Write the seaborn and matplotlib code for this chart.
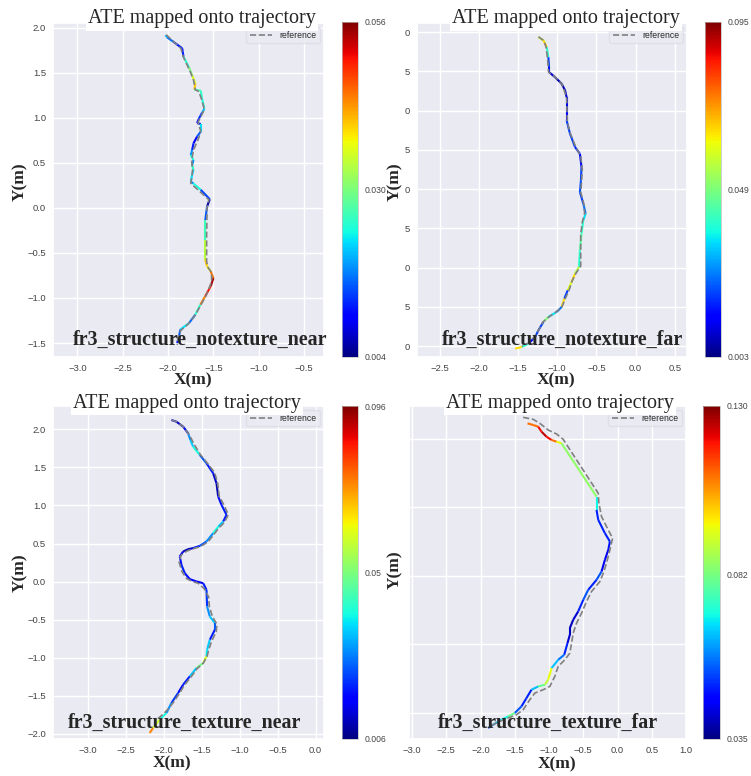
import numpy as np
import seaborn as sns
import matplotlib
matplotlib.use("Agg")
import matplotlib.pyplot as plt
from matplotlib.collections import LineCollection
from matplotlib.colors import Normalize

# ---- data ----

names = ["fr3_structure_notexture_near", "fr3_structure_notexture_far",
         "fr3_structure_texture_near", "fr3_structure_texture_far"]

# fr3_structure_notexture_near
est1_x = [-2.03, -2.01, -1.94, -1.845, -1.83, -1.77, -1.735, -1.70, -1.71, -1.64, -1.625, -1.60, -1.625, -1.66,
          -1.68, -1.64, -1.64, -1.68, -1.72, -1.735, -1.75, -1.72, -1.735, -1.72, -1.735, -1.75, -1.72, -1.64,
          -1.54, -1.57, -1.59, -1.59, -1.59, -1.57, -1.53, -1.50, -1.53, -1.59, -1.645, -1.70, -1.77, -1.865,
          -1.88, -1.90]
est1_y = [1.915, 1.89, 1.84, 1.77, 1.675, 1.56, 1.47, 1.38, 1.31, 1.30, 1.21, 1.10, 1.055, 0.99, 0.94, 0.93,
          0.845, 0.79, 0.715, 0.64, 0.585, 0.53, 0.475, 0.42, 0.365, 0.29, 0.27, 0.20, 0.095, 0.015, -0.135,
          -0.355, -0.575, -0.65, -0.705, -0.78, -0.87, -0.98, -1.075, -1.185, -1.28, -1.35, -1.425, -1.50]
ate1 = [0.020, 0.016, 0.012, 0.012, 0.025, 0.030, 0.036, 0.040, 0.027, 0.025, 0.024, 0.020, 0.013, 0.010,
        0.012, 0.022, 0.015, 0.010, 0.012, 0.018, 0.024, 0.018, 0.025, 0.022, 0.022, 0.018, 0.024, 0.014,
        0.006, 0.015, 0.026, 0.034, 0.040, 0.038, 0.045, 0.054, 0.050, 0.044, 0.025, 0.016, 0.022, 0.015,
        0.012, 0.040]
ref1_x = [-2.02, -1.98, -1.86, -1.83, -1.76, -1.72, -1.70, -1.66, -1.63, -1.60, -1.63, -1.67, -1.64, -1.66,
          -1.72, -1.74, -1.73, -1.74, -1.75, -1.66, -1.55, -1.57, -1.575, -1.575, -1.56, -1.52, -1.52, -1.58,
          -1.64, -1.70, -1.78, -1.86, -1.89, -1.90]
ref1_y = [1.92, 1.88, 1.77, 1.67, 1.52, 1.42, 1.31, 1.29, 1.20, 1.09, 1.03, 0.95, 0.85, 0.78, 0.64, 0.53,
          0.42, 0.33, 0.27, 0.19, 0.09, 0.00, -0.30, -0.60, -0.66, -0.72, -0.82, -0.97, -1.08, -1.19, -1.29,
          -1.36, -1.44, -1.52]

# fr3_structure_notexture_far
est2_x = [-1.24, -1.176, -1.134, -1.113, -1.104, -1.104, -1.03, -0.943, -0.90, -0.88, -0.88, -0.88, -0.837,
          -0.773, -0.71, -0.69, -0.697, -0.71, -0.667, -0.637, -0.667, -0.69, -0.71, -0.722, -0.773, -0.816,
          -0.866, -0.909, -0.943, -1.007, -1.113, -1.176, -1.24, -1.282, -1.367, -1.452, -1.537]
est2_y = [1.936, 1.894, 1.81, 1.68, 1.555, 1.49, 1.427, 1.342, 1.258, 1.17, 1.045, 0.876, 0.706, 0.536, 0.45,
          0.28, 0.112, -0.037, -0.185, -0.312, -0.397, -0.567, -0.78, -0.99, -1.076, -1.18, -1.288, -1.394,
          -1.50, -1.564, -1.627, -1.69, -1.797, -1.882, -1.967, -2.009, -2.03]
ate2 = [0.060, 0.065, 0.040, 0.020, 0.015, 0.010, 0.008, 0.008, 0.010, 0.012, 0.015, 0.020, 0.020, 0.018,
        0.015, 0.020, 0.022, 0.020, 0.025, 0.035, 0.040, 0.045, 0.040, 0.055, 0.065, 0.060, 0.020, 0.065,
        0.025, 0.035, 0.050, 0.020, 0.020, 0.015, 0.040, 0.065, 0.085]
ref2_x = [-1.24, -1.17, -1.14, -1.12, -1.11, -1.03, -0.94, -0.88, -0.875, -0.87, -0.83, -0.76, -0.70, -0.68,
          -0.69, -0.70, -0.66, -0.65, -0.68, -0.70, -0.70, -0.76, -0.81, -0.85, -0.90, -0.94, -1.01, -1.11,
          -1.18, -1.24, -1.29, -1.37, -1.45]
ref2_y = [1.94, 1.89, 1.80, 1.62, 1.49, 1.43, 1.34, 1.17, 1.00, 0.85, 0.70, 0.53, 0.42, 0.25, 0.08, -0.04,
          -0.19, -0.31, -0.42, -0.58, -0.98, -1.07, -1.17, -1.29, -1.40, -1.50, -1.56, -1.63, -1.69, -1.80,
          -1.88, -1.96, -2.00]

# fr3_structure_texture_near
est3_x = [-1.90, -1.834, -1.746, -1.68, -1.65, -1.614, -1.526, -1.438, -1.35, -1.306, -1.284, -1.24, -1.174,
          -1.218, -1.284, -1.35, -1.438, -1.526, -1.614, -1.68, -1.746, -1.79, -1.768, -1.724, -1.658, -1.57,
          -1.482, -1.438, -1.43, -1.394, -1.328, -1.328, -1.394, -1.43, -1.438, -1.482, -1.57, -1.658, -1.746,
          -1.812, -1.90, -1.966, -2.054, -2.142, -2.186]
est3_y = [2.122, 2.10, 2.035, 1.948, 1.86, 1.773, 1.663, 1.554, 1.423, 1.29, 1.117, 1.008, 0.877, 0.789,
          0.72, 0.636, 0.527, 0.47, 0.44, 0.426, 0.395, 0.33, 0.22, 0.111, 0.033, 0.002, -0.02, -0.107,
          -0.326, -0.457, -0.544, -0.632, -0.763, -0.894, -0.981, -1.069, -1.134, -1.244, -1.353, -1.462,
          -1.593, -1.725, -1.812, -1.921, -1.987]
ate3 = [0.015, 0.012, 0.018, 0.030, 0.035, 0.040, 0.025, 0.020, 0.012, 0.010, 0.018, 0.020, 0.020, 0.035,
        0.040, 0.030, 0.025, 0.020, 0.012, 0.010, 0.015, 0.018, 0.020, 0.018, 0.016, 0.015, 0.020, 0.022,
        0.030, 0.035, 0.025, 0.020, 0.035, 0.038, 0.060, 0.050, 0.035, 0.020, 0.018, 0.022, 0.030, 0.040,
        0.060, 0.075, 0.090]
ref3_x = [-1.90, -1.83, -1.74, -1.66, -1.60, -1.52, -1.43, -1.33, -1.29, -1.27, -1.21, -1.15, -1.20, -1.28,
          -1.34, -1.42, -1.52, -1.62, -1.70, -1.77, -1.80, -1.76, -1.70, -1.62, -1.55, -1.47, -1.41, -1.40,
          -1.36, -1.30, -1.31, -1.37, -1.41, -1.43, -1.48, -1.56, -1.64, -1.73, -1.79, -1.87, -1.94, -2.02,
          -2.08]
ref3_y = [2.12, 2.10, 2.03, 1.92, 1.80, 1.67, 1.56, 1.43, 1.29, 1.12, 1.01, 0.88, 0.78, 0.70, 0.62, 0.52,
          0.46, 0.43, 0.40, 0.35, 0.26, 0.13, 0.04, 0.00, -0.02, -0.09, -0.20, -0.33, -0.46, -0.56, -0.66,
          -0.78, -0.90, -0.98, -1.07, -1.14, -1.25, -1.36, -1.46, -1.58, -1.67, -1.75, -1.80]

# fr3_structure_texture_far
est4_x = [-1.314, -1.231, -1.158, -1.11, -1.037, -0.963, -0.89, -0.817, -0.306, -0.306, -0.281, -0.184,
          -0.111, -0.135, -0.184, -0.233, -0.306, -0.428, -0.50, -0.574, -0.647, -0.696, -0.696, -0.73,
          -0.778, -0.866, -0.963, -1.012, -1.061, -1.158, -1.256, -1.329, -1.402, -1.50, -1.597, -1.694,
          -1.816, -1.889]
est4_y = [2.231, 2.207, 2.183, 2.11, 2.036, 1.988, 1.963, 1.939, 1.16, 0.965, 0.819, 0.624, 0.502, 0.38,
          0.234, 0.063, -0.058, -0.205, -0.351, -0.521, -0.643, -0.765, -0.862, -0.984, -1.155, -1.228,
          -1.35, -1.52, -1.593, -1.618, -1.666, -1.788, -1.91, -2.007, -2.056, -2.105, -2.178, -2.227]
ate4 = [0.110, 0.110, 0.120, 0.125, 0.120, 0.110, 0.095, 0.085, 0.070, 0.050, 0.050, 0.050, 0.048, 0.045,
        0.045, 0.055, 0.050, 0.055, 0.050, 0.042, 0.040, 0.040, 0.042, 0.050, 0.058, 0.065, 0.095, 0.090,
        0.080, 0.065, 0.050, 0.050, 0.055, 0.080, 0.070, 0.065, 0.055, 0.050]
ref4_x = [-1.378, -1.231, -1.134, -1.012, -0.890, -0.793, -0.281, -0.272, -0.233, -0.160, -0.072, -0.111,
          -0.160, -0.208, -0.257, -0.379, -0.452, -0.525, -0.598, -0.647, -0.671, -0.696, -0.769, -0.866,
          -0.915, -0.988, -1.085, -1.207, -1.280, -1.378, -1.475, -1.597, -1.719, -1.865]
ref4_y = [2.319, 2.29, 2.231, 2.134, 2.076, 1.998, 1.208, 1.062, 0.867, 0.721, 0.551, 0.380, 0.185, 0.039,
          -0.083, -0.229, -0.375, -0.546, -0.692, -0.838, -0.984, -1.130, -1.228, -1.325, -1.471, -1.618,
          -1.666, -1.715, -1.812, -1.959, -2.032, -2.080, -2.129, -2.202]

cbar_ticks = [[0.004, 0.030, 0.056], [0.003, 0.049, 0.095], [0.006, 0.051, 0.096], [0.035, 0.082, 0.130]]
cbar_labels = [["0.004", "0.030", "0.056"], ["0.003", "0.049", "0.095"],
               ["0.006", "0.05", "0.096"], ["0.035", "0.082", "0.130"]]

# ---- layout (pixels of a 751x776 canvas) ----
W, H = 751, 776


def box(l, t, r, b):
    return [l / W, 1 - b / H, (r - l) / W, (b - t) / H]


sns.set_theme(style="darkgrid")
plt.rcParams["font.family"] = ["Liberation Sans", "DejaVu Sans"]
serif = ["Liberation Serif", "DejaVu Serif"]

fig = plt.figure(figsize=(W / 100, H / 100), dpi=100)

panels = [
    dict(est=(est1_x, est1_y, ate1), ref=(ref1_x, ref1_y), ax=(53, 23, 324, 357), cax=(342, 22, 358, 357),
         xlim=(-3.27, -0.28), ylim=(-1.655, 2.05), xt=np.arange(-3.0, -0.49, 0.5), yt=np.arange(-1.5, 2.01, 0.5),
         title=(202, 19), xl=(193, 380), yl=(20, 182), name=(200, 340)),
    dict(est=(est2_x, est2_y, ate2), ref=(ref2_x, ref2_y), ax=(417, 23, 687, 357), cax=(705, 22, 721, 357),
         xlim=(-2.79, 0.657), ylim=(-2.137, 2.115), xt=np.arange(-2.5, 0.51, 0.5), yt=np.arange(-2.0, 2.01, 0.5),
         title=(566, 19), xl=(556, 380), yl=(395, 182), name=(563, 340)),
    dict(est=(est3_x, est3_y, ate3), ref=(ref3_x, ref3_y), ax=(53, 406, 324, 739), cax=(342, 406, 358, 739),
         xlim=(-3.46, 0.11), ylim=(-2.066, 2.306), xt=np.arange(-3.0, 0.01, 0.5), yt=np.arange(-2.0, 2.01, 0.5),
         title=(187, 403), xl=(172, 763), yl=(20, 573), name=(185, 723)),
    dict(est=(est4_x, est4_y, ate4), ref=(ref4_x, ref4_y), ax=(409, 406, 686, 739), cax=(703, 406, 720, 739),
         xlim=(-3.044, 1.0), ylim=(-2.387, 2.485), xt=np.arange(-3.0, 1.01, 0.5), yt=np.arange(-2.0, 2.01, 1.0),
         title=(560, 403), xl=(557, 764), yl=(395, 570), name=(548, 723)),
]

for i, p in enumerate(panels):
    ax = fig.add_axes(box(*p["ax"]))
    x, y, err = p["est"]
    pts = np.column_stack([x, y])
    segs = np.stack([pts[:-1], pts[1:]], axis=1)
    ticks = cbar_ticks[i]
    lc = LineCollection(segs, cmap="jet", norm=Normalize(ticks[0], ticks[-1]), linewidth=1.5)
    lc.set_array(np.array(err[:-1]))
    ax.add_collection(lc)

    rx, ry = p["ref"]
    sns.lineplot(x=rx, y=ry, sort=False, estimator=None, ax=ax, color="gray", linestyle="--",
                 linewidth=1.2, label="reference")

    ax.set_xlim(*p["xlim"])
    ax.set_ylim(*p["ylim"])
    ax.set_xticks(p["xt"])
    ax.set_yticks(p["yt"])
    ax.set_xticklabels([f"{v:.1f}".replace("-", "\u2212") for v in p["xt"]])
    if i == 0 or i == 2:
        ax.set_yticklabels([f"{v:.1f}".replace("-", "\u2212") for v in p["yt"]])
    elif i == 1:
        # labels cut off in the source figure, only the last digit remains
        ax.set_yticklabels([f"{v:.1f}"[-1] for v in p["yt"]])
    else:
        ax.set_yticklabels([])
    ax.tick_params(labelsize=6.8, colors="#444444", length=0, pad=5)
    ax.set_xlabel("")
    ax.set_ylabel("")
    leg = ax.legend(loc="upper right", fontsize=6.2, frameon=True, handlelength=2.6, borderpad=0.4)
    leg.get_frame().set_edgecolor("#dddde6")

    cax = fig.add_axes(box(*p["cax"]))
    cb = fig.colorbar(lc, cax=cax, ticks=ticks)
    cb.set_ticklabels(cbar_labels[i])
    cax.grid(False)
    cax.tick_params(labelsize=6.2, colors="#444444", length=0, pad=5)
    cb.outline.set_linewidth(0.5)
    cb.outline.set_edgecolor("#bbbbbb")

    tx, ty = p["title"]
    fig.text(tx / W, 1 - ty / H, "ATE mapped onto trajectory", family=serif, fontsize=14.5,
             ha="center", va="center", bbox=dict(facecolor="white", edgecolor="none", pad=1.5))
    lx, ly = p["xl"]
    fig.text(lx / W, 1 - ly / H, "X(m)", family=serif, fontsize=12.5, fontweight="bold", ha="center", va="center")
    yx, yy = p["yl"]
    fig.text(yx / W, 1 - yy / H, "Y(m)", family=serif, fontsize=12.5, fontweight="bold", ha="center",
             va="center", rotation=90)
    nx, ny = p["name"]
    fig.text(nx / W, 1 - ny / H, names[i], family=serif, fontsize=14.4, fontweight="bold", ha="center", va="center")

fig.savefig("out.png", dpi=100)
